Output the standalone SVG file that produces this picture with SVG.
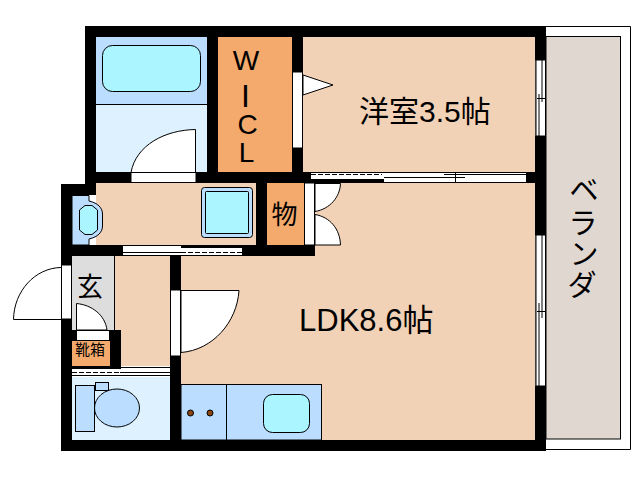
<svg xmlns="http://www.w3.org/2000/svg" width="638" height="480" viewBox="0 0 638 480">
<style>
.w{fill:#000}
.o{fill:#fff}
.f{fill:#F2D2B6}
.s{fill:#F3AA6C}
.bl{fill:#BBDDFF;stroke:#000;stroke-width:1}
.lb{fill:#DDF1FF}
.aq{fill:#AAF5FF;stroke:#000;stroke-width:1}
.d{fill:#fff;stroke:#000;stroke-width:1}
.l{fill:none;stroke:#000;stroke-width:1}
.da{fill:none;stroke:#000;stroke-width:1;stroke-dasharray:5 2}
text{font-family:"Liberation Sans","Noto Sans CJK JP",sans-serif;fill:#000}
</style>
<rect width="638" height="480" fill="#fff"/>
<g id="balcony">
<path class="l" d="M546 26.500H630.500V449.500H546"/>
<rect x="546" y="36.500" width="74.500" height="402.500" fill="#E0D8D0" stroke="#000"/>
</g>
<g id="floors">
<rect x="96" y="37" width="111" height="68" fill="#BBDDFF"/>
<rect class="lb" x="96" y="105" width="111" height="67"/>
<rect class="s" x="218" y="37" width="74" height="135"/>
<rect class="f" x="303" y="37" width="232" height="135"/>
<rect class="f" x="96" y="183" width="160" height="62"/>
<rect class="s" x="267" y="183" width="37" height="62"/>
<rect x="72" y="256" width="43" height="74" fill="#DDDDDD"/>
<rect class="f" x="115" y="256" width="55" height="110"/>
<rect class="f" x="315" y="183" width="220" height="73"/>
<rect class="f" x="181" y="256" width="354" height="184"/>
<rect class="s" x="72" y="341" width="38" height="25"/>
<rect class="lb" x="72" y="377" width="98" height="63"/>
</g>
<g id="walls">
<rect class="w" x="85" y="26" width="461" height="11"/>
<rect class="w" x="85" y="26" width="11" height="169"/>
<rect class="w" x="207" y="26" width="11" height="157"/>
<rect class="w" x="292" y="26" width="11" height="157"/>
<rect class="w" x="535" y="26" width="11" height="425"/>
<rect class="w" x="85" y="172" width="226" height="11"/>
<rect class="w" x="527" y="172" width="19" height="11"/>
<rect class="w" x="61" y="184" width="35" height="11"/>
<rect class="w" x="61" y="184" width="11" height="267"/>
<rect class="w" x="61" y="440" width="485" height="11"/>
<rect class="w" x="61" y="245" width="254" height="11"/>
<rect class="w" x="256" y="183" width="11" height="62"/>
<rect class="w" x="170" y="256" width="11" height="195"/>
<rect class="w" x="72" y="330" width="48" height="11"/>
<rect class="w" x="110" y="330" width="11" height="39"/>
<rect class="w" x="61" y="366" width="60" height="3"/>
<line class="l" x1="114.500" y1="256" x2="114.500" y2="330"/>
<line class="l" x1="96" y1="104.500" x2="207" y2="104.500"/>
</g>
<g id="bath">
<rect class="aq" x="102.500" y="45.500" width="98" height="46" rx="10"/>
<path class="d" d="M131 172.500H195.500V129.500C165 130 136 145 131 172.500Z"/>
<rect class="d" x="131" y="172.500" width="65" height="10"/>
</g>
<g id="wic-door">
<rect class="d" x="292.500" y="72" width="10" height="76"/>
<path class="d" d="M303 75L333 85L303 95Z"/>
</g>
<g id="western-room-sliding-door">
<rect class="o" x="311" y="172" width="216" height="11"/>
<rect class="w" x="311" y="179" width="73" height="4"/>
<path class="l" d="M311 172.500H527M526.500 172V183"/>
<path class="da" d="M311 174.500H382"/>
<path class="l" d="M384 177.500H465M444 174.500H526M384 182.500H527M455.500 172V182"/>
</g>
<g id="western-room-window">
<rect class="o" x="535.500" y="60" width="10" height="76"/>
<path class="l" d="M535.500 60H545.500M535.500 136H545.500M536 60V136M542 60V102M539 94V136M537 98.500H545M545.500 60V136"/>
</g>
<g id="washroom">
<path class="bl" d="M72 195.500H89V201C98 203 102.500 208 102.500 214V226C102.500 232 98 237 89 239V245H72Z"/>
<path class="aq" d="M79.500 210L85 205.500H92L97.500 210V230L92 234.500H85L79.500 230Z"/>
<rect class="bl" x="201.500" y="187.500" width="51" height="50" rx="3"/>
<rect class="aq" x="205.500" y="191.500" width="43" height="42" rx="1"/>
</g>
<g id="storage-door">
<rect class="d" x="304.500" y="183" width="10" height="62"/>
<path class="d" d="M315 183.500H340.500C340 197 330 209 315 211.500Z"/>
<path class="d" d="M315 214.500C330 217 340 229 340.500 245H315Z"/>
</g>
<g id="sliding-door-corridor">
<rect class="o" x="122" y="245" width="120" height="11"/>
<rect class="w" x="181" y="245" width="61" height="3"/>
<path class="l" d="M122 245.500H181M122 252.500H181M122 255.500H242M122.500 245V256"/>
<path class="da" d="M181 252.500H242"/>
</g>
<g id="entrance-door">
<rect class="d" x="61.500" y="265" width="10" height="54"/>
<path class="l" d="M61 267.500C35 268 14 291 13.500 319.500H61"/>
<path class="d" d="M76.500 330V303.500C92 305 105 315 107 330Z"/>
<rect class="d" x="76.500" y="330.500" width="33" height="10"/>
</g>
<g id="toilet">
<rect class="o" x="72" y="369" width="98" height="8"/>
<rect class="o" x="121" y="368" width="49" height="2"/>
<path class="l" d="M121 367.500H170M120 372.500H170M72 375.500H170"/>
<path class="da" d="M72 372.500H120"/>
<ellipse class="bl" cx="117" cy="408" rx="22.500" ry="19"/>
<rect class="bl" x="75.500" y="385.500" width="19" height="46"/>
<rect class="bl" x="95.500" y="382.500" width="13" height="8"/>
</g>
<g id="ldk-door">
<rect class="d" x="170.500" y="290" width="10" height="66"/>
<path class="d" d="M181 290.500H239C237 322 213 350 181 352.500Z"/>
</g>
<g id="ldk-window">
<rect class="o" x="535.500" y="235" width="10" height="151"/>
<path class="l" d="M535.500 235H545.500M536 386H545.500M536 235V386M542 235V318M539 303V386M537 311.500H545M545.500 235V386"/>
</g>
<g id="kitchen">
<rect class="bl" x="181" y="384.500" width="140.500" height="55.500"/>
<line class="l" x1="226.500" y1="384.500" x2="226.500" y2="440"/>
<circle cx="190.500" cy="413" r="3" fill="#8B4513" stroke="#000"/>
<circle cx="210" cy="413" r="3" fill="#8B4513" stroke="#000"/>
<rect class="aq" x="263.500" y="394.500" width="46" height="38" rx="9"/>
</g>
<g id="labels">
<text x="359" y="122" font-size="30">洋室3.5帖</text>
<text x="299" y="331" font-size="31">LDK8.6帖</text>
<text font-size="28" text-anchor="middle"><tspan x="246" y="70">W</tspan><tspan x="245.500" y="107" font-size="32" font-weight="100">I</tspan><tspan x="247.500" y="134">C</tspan><tspan x="246.500" y="162">L</tspan></text>
<text x="284.500" y="224" font-size="26" text-anchor="middle">物</text>
<text x="90" y="296" font-size="26" text-anchor="middle">玄</text>
<text x="90" y="355" font-size="15" text-anchor="middle">靴箱</text>
<text font-size="29" text-anchor="middle"><tspan x="584" y="201">ベ</tspan><tspan x="583" y="234">ラ</tspan><tspan x="584" y="265">ン</tspan><tspan x="582" y="296">ダ</tspan></text>
</g>
</svg>
